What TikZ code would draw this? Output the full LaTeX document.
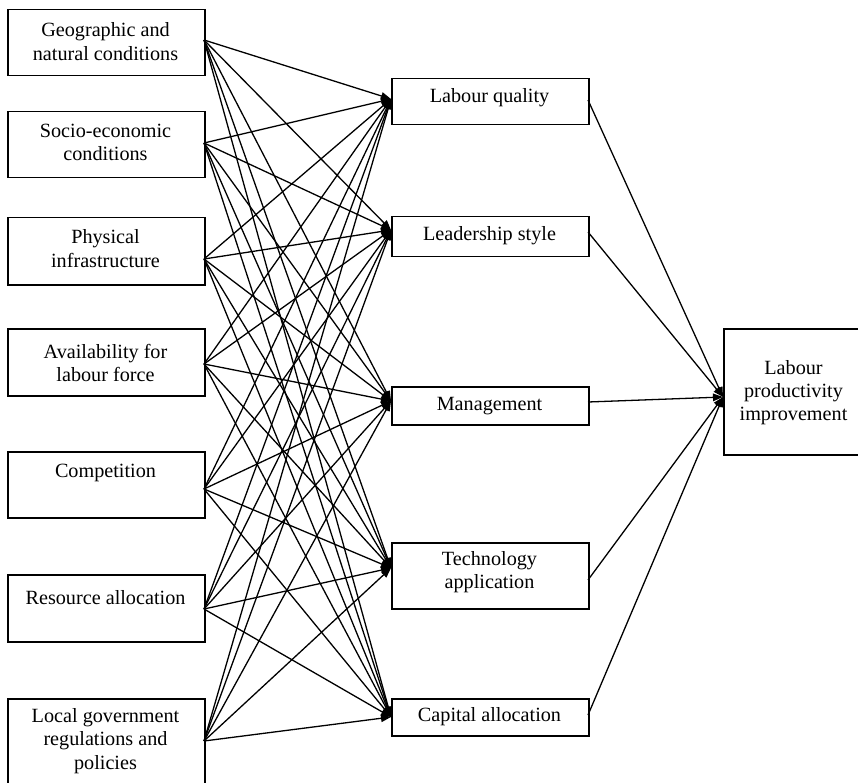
\documentclass[tikz,border=0pt]{standalone}
\usepackage{fontspec}
\setmainfont{Liberation Serif}
\usetikzlibrary{arrows.meta}
\begin{document}
\begin{tikzpicture}[x=1pt,y=-1pt,
  boxline/.style={draw=black,line width=1.5pt},
  txt/.style={align=center,inner sep=0pt,font=\fontsize{20.2}{23.3}\selectfont},
  arr/.style={line width=1.3pt,-{Triangle[length=10pt,width=7.5pt]}}]
\useasboundingbox (0,0) rectangle (858,783);
\clip (0,0) rectangle (858,783);
% left column boxes
\node[boxline,minimum width=197pt,minimum height=66pt,anchor=north west] (a1) at (7,9) {};
\node[boxline,minimum width=197pt,minimum height=66pt,anchor=north west] (a2) at (7,111) {};
\node[boxline,minimum width=197pt,minimum height=67pt,anchor=north west] (a3) at (7,217) {};
\node[boxline,minimum width=197pt,minimum height=67pt,anchor=north west] (a4) at (7,328) {};
\node[boxline,minimum width=197pt,minimum height=66pt,anchor=north west] (a5) at (7,451) {};
\node[boxline,minimum width=197pt,minimum height=67pt,anchor=north west] (a6) at (7,574) {};
\node[boxline,minimum width=197pt,minimum height=100pt,anchor=north west] (a7) at (7,698) {};
\node[txt] (t1) at (105.5,41.5) {Geographic and\\natural conditions};
\node[txt] (t2) at (105.5,142.5) {Socio-economic\\conditions};
\node[txt] (t3) at (105.5,248.5) {Physical\\infrastructure};
\node[txt] (t4) at (105.5,363) {Availability for\\labour force};
\node[txt] (t5) at (105.5,473) {Competition};
\node[txt] (t6) at (105.5,598) {Resource allocation};
\node[txt] (t7) at (105.5,741) {Local government\\regulations and\\policies};
% middle column boxes
\node[boxline,minimum width=197pt,minimum height=46pt,anchor=north west] (b1) at (391,78) {};
\node[boxline,minimum width=197pt,minimum height=40pt,anchor=north west] (b2) at (391,216) {};
\node[boxline,minimum width=197pt,minimum height=38pt,anchor=north west] (b3) at (391,386) {};
\node[boxline,minimum width=197pt,minimum height=66pt,anchor=north west] (b4) at (391,542) {};
\node[boxline,minimum width=197pt,minimum height=37pt,anchor=north west] (b5) at (391,698) {};
\node[txt] (u1) at (489.5,98) {Labour quality};
\node[txt] (u2) at (489.5,236) {Leadership style};
\node[txt] (u3) at (489.5,406) {Management};
\node[txt] (u4) at (489.5,572) {Technology\\application};
\node[txt] (u5) at (489.5,717) {Capital allocation};
% right box
\node[boxline,minimum width=141pt,minimum height=126pt,anchor=north west] (c) at (723,328) {};
\node[txt] (v) at (793.5,392.5) {Labour\\productivity\\improvement};
% connection points
\coordinate (o1) at (204,40);
\coordinate (o2) at (204,143);
\coordinate (o3) at (204,259);
\coordinate (o4) at (204,364);
\coordinate (o5) at (204,489);
\coordinate (o6) at (204,609);
\coordinate (o7) at (204,741);
\coordinate (i1) at (391,99);
\coordinate (i2) at (391,230);
\coordinate (i3) at (391,401);
\coordinate (i4) at (391,568);
\coordinate (i5) at (391,717);
\coordinate (m1) at (588,100);
\coordinate (m2) at (588,232);
\coordinate (m3) at (588,402);
\coordinate (m4) at (588,580);
\coordinate (m5) at (588,715);
\coordinate (r) at (723,397);
\foreach \i in {1,...,7}{
  \foreach \j in {1,...,5}{
    \draw[arr] (o\i) -- (i\j);
  }
}
\foreach \j in {1,...,5}{
  \draw[arr] (m\j) -- (r);
}
\end{tikzpicture}
\end{document}
